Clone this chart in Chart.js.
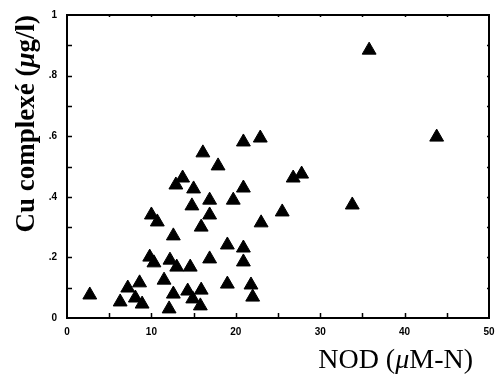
<!DOCTYPE html>
<html>
<head>
<meta charset="utf-8">
<script src="https://cdn.jsdelivr.net/npm/chart.js@4/dist/chart.umd.min.js"></script>
<style>
  body { margin: 0; background: #fff; }
  canvas { display: block; }
</style>
</head>
<body>
<canvas id="myChart" width="496" height="376"></canvas>
<script>
// NOD (uM-N) vs Cu complexe (ug/l)
var nod = [35.8, 43.8, 33.8, 20.9, 22.9, 16.1, 17.9, 26.8, 27.8, 13.7,
  12.9, 15.0, 20.9, 14.8, 16.9, 19.7, 16.9, 10.0, 10.7, 25.5,
  23.0, 15.9, 12.6, 19.0, 20.9, 20.9, 9.8, 10.3, 12.2, 13.0,
  14.6, 16.9, 11.5, 19.0, 21.8, 22.0, 2.7, 6.3, 7.2, 8.6,
  8.1, 8.9, 12.6, 12.1, 14.3, 14.9, 15.9, 15.8];
var cu = [0.884, 0.597, 0.373, 0.581, 0.594, 0.545, 0.502, 0.462, 0.475, 0.462,
  0.439, 0.426, 0.429, 0.370, 0.389, 0.389, 0.340, 0.340, 0.317, 0.350,
  0.314, 0.300, 0.271, 0.241, 0.231, 0.185, 0.201, 0.182, 0.191, 0.168,
  0.168, 0.195, 0.125, 0.112, 0.109, 0.069, 0.076, 0.053, 0.099, 0.116,
  0.066, 0.046, 0.079, 0.030, 0.089, 0.063, 0.092, 0.040];

var xTicks = [0, 10, 20, 30, 40, 50];
var yTickLabels = ['0', '.2', '.4', '.6', '.8', '1'];

var points = [];
for (var i = 0; i < nod.length; i++) points.push({ x: nod[i], y: cu[i] });

// frame, inward tick marks and the axis titles
const frame = {
  id: 'frame',
  afterDraw(chart) {
    const ctx = chart.ctx;
    const a = chart.chartArea;
    const x = chart.scales.x, y = chart.scales.y;
    ctx.save();
    ctx.strokeStyle = '#000';
    ctx.lineWidth = 2;
    ctx.strokeRect(a.left, a.top, a.right - a.left, a.bottom - a.top);

    ctx.lineWidth = 1.5;
    ctx.beginPath();
    for (let v = 5; v < 50; v += 5) {
      const px = Math.round(x.getPixelForValue(v)) + 0.5;
      ctx.moveTo(px, a.bottom); ctx.lineTo(px, a.bottom - 5);
      ctx.moveTo(px, a.top); ctx.lineTo(px, a.top + 2);
    }
    for (let k = 1; k < 10; k++) {
      const py = Math.round(y.getPixelForValue(k / 10)) + 0.5;
      ctx.moveTo(a.left, py); ctx.lineTo(a.left + 5, py);
      ctx.moveTo(a.right, py); ctx.lineTo(a.right - 2, py);
    }
    ctx.stroke();

    ctx.fillStyle = '#000';
    ctx.textBaseline = 'alphabetic';
    ctx.textAlign = 'left';

    // x title
    var xs = [['NOD (', '28px "Liberation Serif"'], ['\u03bc', 'italic 28px "Liberation Serif"'], ['M-N)', '28px "Liberation Serif"']];
    var w = 0;
    xs.forEach(function (p) { ctx.font = p[1]; w += ctx.measureText(p[0]).width; });
    var cx = 473 - w;
    xs.forEach(function (p) { ctx.font = p[1]; ctx.fillText(p[0], cx, 368); cx += ctx.measureText(p[0]).width; });

    // y title
    var ys = [['Cu complex\u00e9 (', 'bold 27px "Liberation Serif"'], ['\u03bc', 'bold italic 27px "Liberation Serif"'], ['g/l)', 'bold 27px "Liberation Serif"']];
    w = 0;
    ys.forEach(function (p) { ctx.font = p[1]; w += ctx.measureText(p[0]).width; });
    ctx.translate(34, a.top);
    ctx.rotate(-Math.PI / 2);
    cx = -w;
    ys.forEach(function (p) { ctx.font = p[1]; ctx.fillText(p[0], cx, 0); cx += ctx.measureText(p[0]).width; });
    ctx.restore();
  }
};

const config = {
  type: 'scatter',
  data: {
    datasets: [{
      data: points,
      pointStyle: 'triangle',
      pointRadius: 8,
      borderWidth: 1,
      backgroundColor: '#000',
      borderColor: '#000'
    }]
  },
  options: {
    responsive: false,
    animation: false,
    layout: { autoPadding: false, padding: { top: 15, right: 7, left: 0, bottom: 0 } },
    plugins: { legend: { display: false }, tooltip: { enabled: false } },
    scales: {
      x: {
        min: 0, max: 50,
        grid: { display: false, drawTicks: false },
        border: { display: false },
        afterFit: function (s) { s.height = 58; s.paddingLeft = 0; s.paddingRight = 0; },
        afterBuildTicks: function (s) { s.ticks = xTicks.map(function (v) { return { value: v }; }); },
        ticks: {
          padding: 8,
          color: '#000',
          maxRotation: 0,
          font: { family: '"Liberation Sans"', size: 10, weight: 'bold' }
        }
      },
      y: {
        min: 0, max: 1,
        grid: { display: false, drawTicks: false },
        border: { display: false },
        afterFit: function (s) { s.width = 67; s.paddingTop = 0; s.paddingBottom = 0; },
        ticks: {
          stepSize: 0.2,
          padding: 10,
          color: '#000',
          font: { family: '"Liberation Sans"', size: 10, weight: 'bold' },
          callback: function (v) { return yTickLabels[Math.round(v * 5)]; }
        }
      }
    }
  },
  plugins: [frame]
};
const myChart = new Chart(document.getElementById('myChart'), config);
</script>
</body>
</html>
